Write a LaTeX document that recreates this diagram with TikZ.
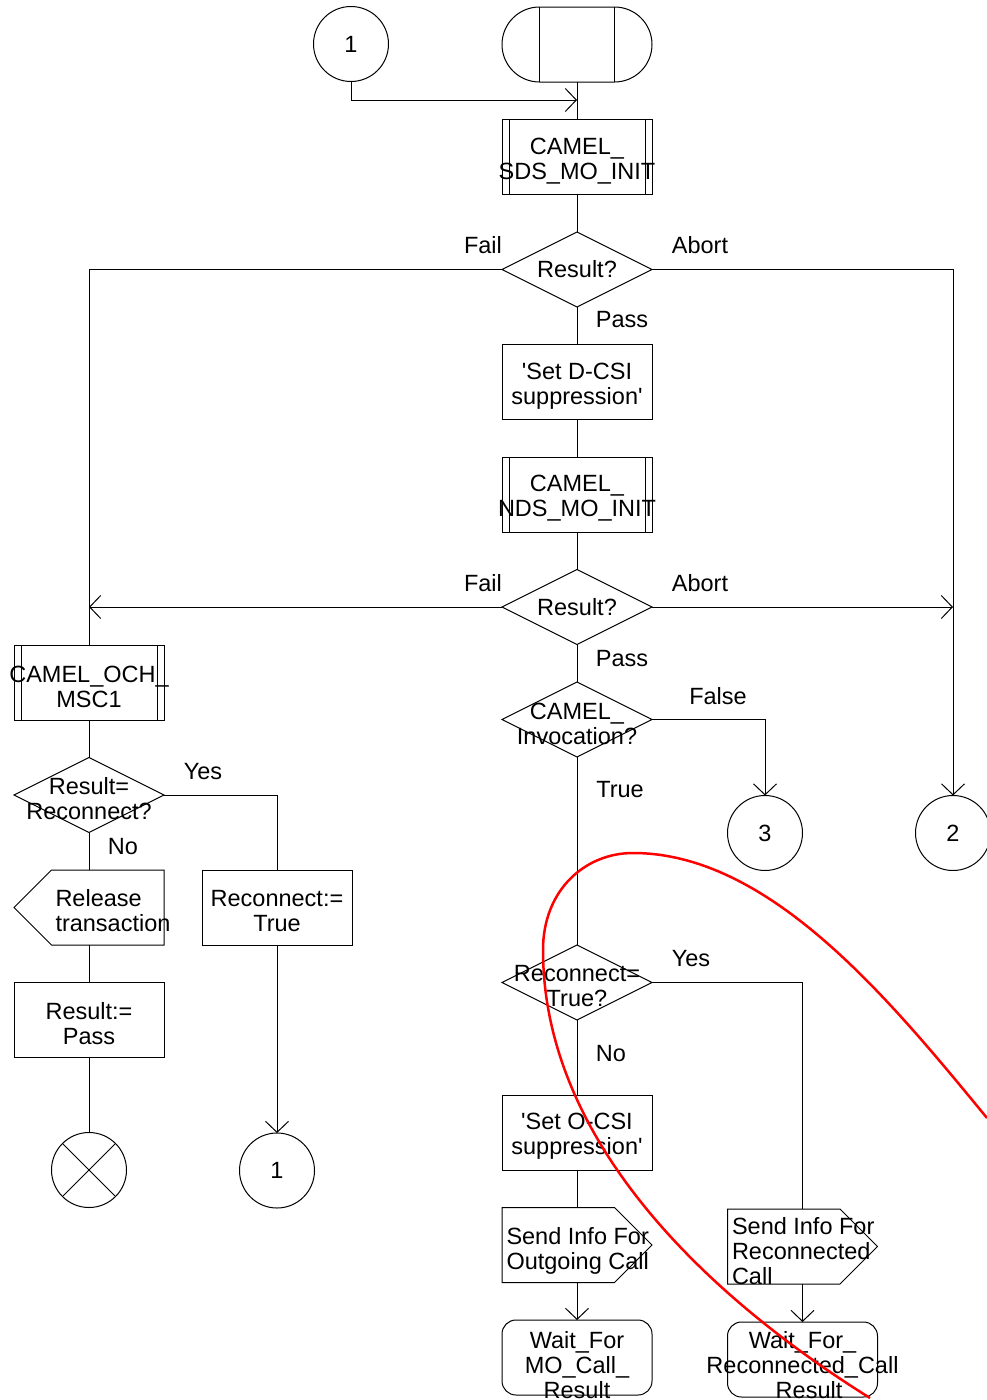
\documentclass[tikz,border=0pt]{standalone}
\usepackage{fontspec}
\setmainfont{Liberation Sans}
\usetikzlibrary{arrows.meta,positioning,shapes.geometric,shapes.symbols,shapes.misc}

\begin{document}
\begin{tikzpicture}[x=1pt, y=-1pt, node distance=37.5pt, line width=1pt,
  every node/.style={font=\fontsize{23.5}{25}\selectfont},
  box/.style={draw, rectangle, minimum width=150pt, minimum height=75pt, inner sep=0pt, outer sep=0pt, align=center},
  proc/.style={box, path picture={\draw ([xshift=7pt]path picture bounding box.north west) -- ([xshift=7pt]path picture bounding box.south west)
      ([xshift=-7pt]path picture bounding box.north east) -- ([xshift=-7pt]path picture bounding box.south east);}},
  decision/.style={draw, diamond, aspect=2, minimum width=150pt, minimum height=75pt, inner sep=0pt, outer sep=0pt},
  conn/.style={draw, circle, minimum size=75pt, inner sep=0pt, outer sep=0pt},
  stopsym/.style={conn, path picture={\draw (path picture bounding box.north west) -- (path picture bounding box.south east)
      (path picture bounding box.north east) -- (path picture bounding box.south west);}},
  outsig/.style={draw, signal, signal to=east, signal pointer angle=90, minimum width=150pt, minimum height=75pt, inner sep=0pt, outer sep=0pt},
  insig/.style={draw, signal, signal to=west, signal pointer angle=90, minimum width=150pt, minimum height=75pt, inner sep=0pt, outer sep=0pt},
  state/.style={box, rounded corners=14pt},
  startsym/.style={draw, rounded rectangle, minimum width=150pt, minimum height=75pt, inner sep=0pt, outer sep=0pt},
  lbl/.style={inner sep=0pt, align=center},
  ctext/.style={lbl, yshift=-4pt},
  arr/.style={-{Straight Barb[length=11pt,width=23pt]}},
  redmark/.style={draw=red, line width=2.5pt}]
\useasboundingbox (0,0) rectangle (987,1400);

% main column
\node[conn] (c1) at (351,44) {1};
\node[startsym] (start) at (577,44.5) {};
\draw ([xshift=-37.5pt]start.north) -- ([xshift=-37.5pt]start.south)
      ([xshift=37.5pt]start.north) -- ([xshift=37.5pt]start.south);
\node[proc, below=of start, label={[ctext]center:{CAMEL\_\\SDS\_MO\_INIT}}] (sds) {};
\node[decision, below=of sds, label={[lbl]center:{Result?}}] (res1) {};
\node[box, below=of res1, label={[ctext]center:{\textquotesingle Set D-CSI\\suppression\textquotesingle}}] (dcsi) {};
\node[proc, below=of dcsi, label={[ctext]center:{CAMEL\_\\NDS\_MO\_INIT}}] (nds) {};
\node[decision, below=of nds, label={[lbl]center:{Result?}}] (res2) {};
\node[decision, below=of res2, label={[ctext]center:{CAMEL\_\\Invocation?}}] (inv) {};
\node[decision, below=188pt of inv, label={[ctext]center:{Reconnect=\\True?}}] (recq) {};
\node[box, below=75pt of recq, label={[ctext]center:{\textquotesingle Set O-CSI\\suppression\textquotesingle}}] (ocsi) {};
\node[outsig, below=of ocsi, xshift=-18.75pt, label={[lbl, align=left, anchor=west, xshift=4pt, yshift=-6pt]west:{Send Info For\\Outgoing Call}}] (sendout) {};
\node[state, below=of sendout, xshift=18.75pt, label={[lbl, yshift=-8pt]center:{Wait\_For\\MO\_Call\_\\Result}}] (waitmo) {};

% right side
\node[conn] (c3) at (765,833) {3};
\node[conn] (c2) at (953,833) {2};
\node[outsig, label={[lbl, align=left, anchor=west, xshift=4pt, yshift=-5pt]west:{Send Info For\\Reconnected\\Call}}] (sendre) at (783.75,1246.5) {};
\node[state, label={[lbl, yshift=-8pt]center:{Wait\_For\_\\Reconnected\_Call\\\_Result}}] (waitre) at (802.5,1359.5) {};

% left column
\node[proc, label={[ctext]center:{CAMEL\_OCH\_\\MSC1}}] (och) at (89,682.5) {};
\node[decision, below=of och, label={[ctext]center:{Result=\\Reconnect?}}] (resrc) {};
\node[insig, below=of resrc, xshift=18.75pt, label={[lbl, align=left, anchor=west, xshift=41pt, yshift=-3pt]west:{Release\\transaction}}] (release) {};
\node[box, right=38pt of release, label={[ctext]center:{Reconnect:=\\True}}] (setrc) {};
\node[box, below=of release, xshift=-18.75pt, label={[ctext]center:{Result:=\\Pass}}] (respass) {};
\node[stopsym, below=75pt of respass] (stop) {};
\node[conn, below=188pt of setrc] (c1b) {1};

% branch labels
\node[lbl] (fail1) at (483,245) {Fail};
\node[lbl] (abort1) at (700,245) {Abort};
\node[lbl] (pass1) at (622,320) {Pass};
\node[lbl] (fail2) at (483,583) {Fail};
\node[lbl] (abort2) at (700,583) {Abort};
\node[lbl] (pass2) at (622,659) {Pass};
\node[lbl] (false1) at (718,696) {False};
\node[lbl] (true1) at (620,790) {True};
\node[lbl] (yes1) at (691,959) {Yes};
\node[lbl] (no1) at (611,1054) {No};
\node[lbl] (yes2) at (203,772) {Yes};
\node[lbl] (no2) at (123,847) {No};

% connectors
\coordinate (j1) at (577,100);
\draw (start) -- (sds) -- (res1) -- (dcsi) -- (nds) -- (res2) -- (inv) -- (recq) -- (ocsi);
\draw (ocsi) -- (ocsi |- sendout.north);
\draw[arr] (c1.south) |- (j1);
\draw (res1.west) -| (och.north);
\draw[arr] (res1.east) -| (c2.north);
\draw[arr] (res2.west) -- (res2.west -| och.north);
\draw[arr] (res2.east) -- (res2.east -| c2.north);
\draw[arr] (inv.east) -| (c3.north);
\draw (recq.east) -| (waitre |- sendre.north);
\draw[arr] (waitmo |- sendout.south) -- (waitmo);
\draw[arr] (waitre |- sendre.south) -- (waitre);
\draw (och) -- (resrc) -- (resrc |- release.north);
\draw (respass |- release.south) -- (respass) -- (stop);
\draw (resrc.east) -| (setrc.north);
\draw[arr] (setrc) -- (c1b);

% red mark
\draw[redmark] (870,1398) .. controls (705,1295) and (543,1140) .. (543,950)
  .. controls (543,890) and (585,853) .. (633,853)
  .. controls (770,853) and (890,1000) .. (987,1118);
\end{tikzpicture}
\end{document}
